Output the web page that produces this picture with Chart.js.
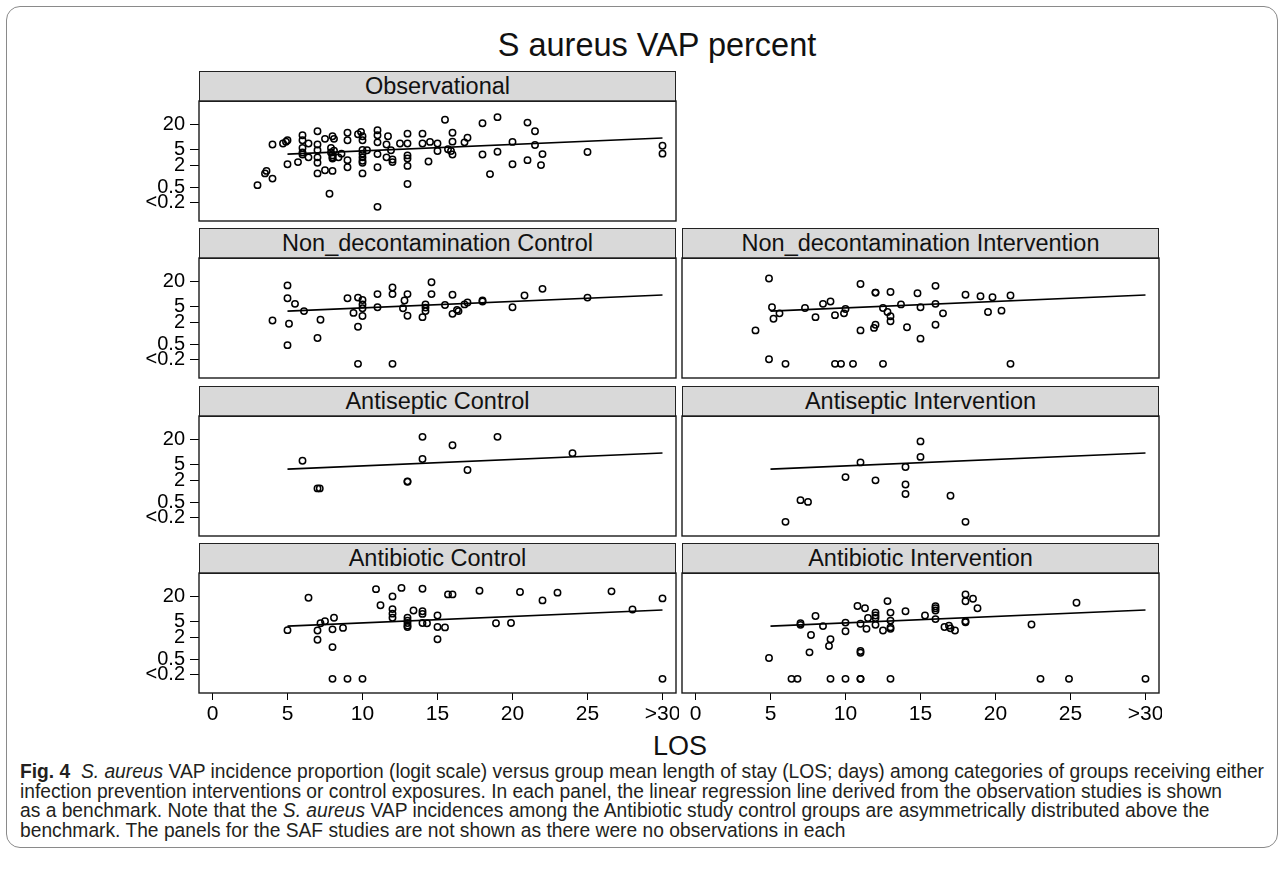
<!DOCTYPE html>
<html lang="en">
<head>
<meta charset="UTF-8">
<title>S aureus VAP percent</title>
<script src="https://cdn.jsdelivr.net/npm/chart.js"></script>
<style>
  body { margin: 0; background: #fff; font-family: "Liberation Sans", Arial, Helvetica, sans-serif; color: #111; }
  #fig { position: relative; width: 1284px; height: 885px; overflow: hidden; }
  .frame { position: absolute; left: 6px; top: 6px; width: 1272px; height: 842px; border: 1px solid #8a8a8a; border-radius: 14px; box-sizing: border-box; }
  canvas { position: absolute; }
  .strip { position: absolute; height: 31px; background: #d9d9d9; border: 1.3px solid #222; box-sizing: border-box;
           font-size: 23.5px; line-height: 28px; text-align: center; white-space: nowrap; }
  #title { position: absolute; left: 657px; top: 27px; transform: translateX(-50%); font-size: 32.5px; line-height: 36px; white-space: nowrap; }
  #xlabel { position: absolute; left: 680px; top: 730px; transform: translateX(-50%); font-size: 27px; line-height: 32px; }
  .cap { position: absolute; left: 20px; font-size: 20.5px; line-height: 20px; white-space: nowrap; color: #231f20; transform-origin: 0 50%; }
</style>
</head>
<body>
<div id="fig">
  <div class="frame"></div>
  <div id="title">S aureus VAP percent</div>
  <div id="xlabel">LOS</div>
  <div class="cap" style="top:761px"><b>Fig. 4</b>&nbsp; <i>S. aureus</i> VAP incidence proportion (logit scale) versus group mean length of stay (LOS; days) among categories of groups receiving either</div>
  <div class="cap" style="top:781px">infection prevention interventions or control exposures. In each panel, the linear regression line derived from the observation studies is shown</div>
  <div class="cap" style="top:800px">as a benchmark. Note that the <i>S. aureus</i> VAP incidences among the Antibiotic study control groups are asymmetrically distributed above the</div>
  <div class="cap" style="top:820px">benchmark. The panels for the SAF studies are not shown as there were no observations in each</div>
</div>

<script>
// axis ticks (y in percent, shown on a logit scale)
const yTickValues = [20, 5, 2, 0.5, 0.2];
const yTickLabels = ['20', '5', '2', '0.5', '<0.2'];
const xTickValues = [0, 5, 10, 15, 20, 25, 30];
const xTickLabels = ['0', '5', '10', '15', '20', '25', '>30'];

// benchmark regression line from the observational studies
const lineLos = [5, 30];
const linePct = [3.9, 10.0];

// "<0.2" groups are drawn at 0.15 just under the lowest tick
const obsLos = [3.0, 3.5, 3.6, 4.0, 4.0, 4.7, 4.9, 5.0, 5.0, 5.7,
  6.0, 6.0, 6.0, 6.0, 6.0, 6.4, 6.4, 7.0, 7.0, 7.0,
  7.0, 7.0, 7.0, 7.5, 7.5, 8.0, 8.1, 7.9, 7.9, 8.0,
  8.0, 8.0, 8.1, 8.0, 8.6, 8.4, 7.8, 9.0, 9.0, 9.0,
  9.0, 9.7, 9.9, 10, 10, 10, 10, 10, 10, 10,
  10, 10.3, 11, 11, 11, 11, 11, 11, 11.6, 11.7,
  11.6, 11.9, 12, 12, 12.5, 13, 13, 13, 13, 13,
  13, 14, 14, 14.4, 14.5, 15, 15, 15.5, 15.7, 15.9,
  16, 16, 16, 16.8, 17, 18, 18, 18.5, 19, 19,
  20, 20, 21, 21, 21.5, 21.5, 22, 21.9, 25, 30,
  30];
const obsPct = [0.58, 1.2, 1.4, 0.87, 6.9, 7.3, 8.1, 8.8, 2.1, 2.4,
  11.6, 8.8, 5.6, 4.3, 3.8, 7.3, 3.2, 14.5, 6.9, 4.9,
  3.2, 2.3, 1.2, 1.45, 9.5, 11, 9.5, 5.6, 4.3, 3.6,
  3.2, 3.0, 4.8, 1.4, 4.0, 3.2, 0.34, 13.3, 8.8, 2.7,
  1.75, 12.3, 14, 11, 8.8, 5.0, 4.0, 3.2, 2.6, 2.3,
  1.2, 4.9, 15.3, 11.6, 7.8, 3.9, 1.75, 0.15, 6.9, 11,
  3.2, 4.9, 2.8, 2.4, 7.3, 12.7, 7.3, 3.6, 3.0, 1.9,
  0.62, 12.7, 7.3, 2.5, 8.0, 7.3, 4.7, 25.7, 5.2, 4.7,
  13.3, 8.1, 3.8, 7.8, 10.1, 21.8, 3.8, 1.15, 29, 4.5,
  8.0, 2.1, 22.5, 2.7, 14.5, 6.7, 3.9, 2.0, 4.4, 6.4,
  4.0];

const ndcLos = [4.0, 5.0, 5.0, 5.1, 5.0, 5.5, 6.1, 7.0, 7.2, 9.0,
  9.4, 9.7, 9.7, 9.7, 10, 10, 10, 10, 11, 11,
  12, 12, 12, 12.7, 12.8, 13, 13, 14, 14.2, 14.2,
  14.2, 14.6, 14.6, 15.5, 16, 16, 16.3, 16.4, 16.8, 17,
  18, 18, 20, 20.8, 22, 25];
const ndcPct = [2.2, 16.8, 8.3, 1.8, 0.48, 6.0, 3.9, 0.75, 2.3, 8.3,
  3.5, 8.6, 1.5, 0.15, 7.5, 5.8, 4.6, 2.9, 10.5, 4.9,
  15.0, 10.5, 0.15, 4.6, 7.3, 10.5, 2.95, 2.7, 5.8, 4.8,
  3.9, 19.7, 10.5, 5.6, 10.1, 3.3, 4.2, 3.9, 5.8, 6.5,
  7.3, 6.9, 4.9, 9.7, 14.0, 8.6];

const ndiLos = [4.0, 4.9, 5.1, 5.2, 5.6, 4.9, 6.0, 7.3, 8.0, 8.5,
  9.0, 9.3, 9.9, 10, 9.3, 9.7, 10.5, 11, 11, 11.9,
  12, 12, 12, 12.5, 12.5, 12.8, 13, 13, 13, 13.7,
  14.1, 14.8, 15, 15, 16, 16, 16, 16.5, 18, 19,
  19.5, 19.8, 20.4, 21, 21];
const ndiPct = [1.2, 23.7, 4.9, 2.45, 3.4, 0.2, 0.15, 4.7, 2.7, 6.0,
  6.9, 3.05, 3.4, 4.4, 0.15, 0.15, 0.15, 18, 1.2, 1.4,
  1.7, 11.4, 11.4, 4.7, 0.15, 3.7, 11.8, 2.85, 2.1, 5.8,
  1.45, 11, 4.9, 0.72, 16.4, 6.0, 1.7, 3.4, 10.1, 9.3,
  3.7, 8.8, 4.0, 9.7, 0.15];

const ascLos = [6.0, 7.0, 7.15, 13, 13, 14, 14, 16, 17, 19, 24];
const ascPct = [6.4, 1.2, 1.2, 1.8, 1.85, 23.3, 7.1, 15.3, 3.7, 23.3, 9.9];

const asiLos = [6.0, 7.0, 7.5, 10, 11, 12, 14, 14, 14, 15, 15, 17, 18];
const asiPct = [0.15, 0.58, 0.52, 2.4, 5.8, 1.97, 4.4, 1.53, 0.85, 18.6, 8.0, 0.76, 0.15];

const abcLos = [5.0, 6.4, 7.0, 7.0, 7.2, 7.5, 8.0, 8.1, 8.0, 8.7,
  8.0, 9.0, 10, 10.9, 11.2, 12, 12, 12, 12, 12.6,
  13.4, 13, 13, 13, 13, 13, 14, 14, 14, 14,
  14.3, 15, 15, 15, 15.5, 15.7, 16, 17.8, 18.9, 19.9,
  20.5, 22, 23, 26.6, 28, 30, 30];
const abcPct = [3.05, 19.3, 3.0, 1.7, 4.6, 5.2, 3.2, 6.4, 1.08, 3.5,
  0.15, 0.15, 0.15, 29, 13.0, 20.6, 10.5, 8.1, 6.4, 30.6,
  9.7, 6.4, 5.4, 4.7, 4.0, 3.7, 29.5, 9.3, 8.0, 4.7,
  4.6, 7.3, 3.7, 1.75, 3.6, 22.7, 22.7, 27, 4.6, 4.7,
  25.4, 16.8, 24.7, 26.2, 10.3, 18.6, 0.15];

const abiLos = [4.9, 6.4, 6.8, 7.0, 7.0, 7.6, 7.7, 8.0, 8.5, 8.9,
  9.0, 9.0, 10, 10, 10, 10.8, 11.3, 11, 11, 11,
  11, 11, 11.4, 11.5, 12, 12, 12, 12, 12.5, 12.8,
  13, 13, 13, 13, 13, 14, 15.3, 16, 16, 16,
  16, 16.6, 16.9, 17, 17.3, 18, 18, 18, 18, 18.5,
  18.8, 22.4, 23, 24.9, 25.4, 30];
const abiPct = [0.55, 0.15, 0.15, 4.6, 4.2, 0.78, 2.27, 7.1, 3.9, 1.16,
  1.75, 0.15, 4.8, 2.85, 0.15, 12.5, 11, 4.5, 0.85, 0.76,
  0.15, 0.15, 3.3, 6.3, 8.6, 7.3, 6.3, 4.2, 3.0, 16.2,
  8.6, 5.4, 3.6, 3.3, 0.15, 9.3, 7.3, 12.3, 11, 9.7,
  5.9, 3.7, 4.0, 3.4, 3.0, 22.7, 16.1, 5.2, 4.9, 18.3,
  11, 4.3, 0.15, 0.15, 14.8, 0.15];

const panels = [
  { name: 'Observational', los: obsLos, pct: obsPct, row: 0, col: 0 },
  { name: 'Non_decontamination Control', los: ndcLos, pct: ndcPct, row: 1, col: 0 },
  { name: 'Non_decontamination Intervention', los: ndiLos, pct: ndiPct, row: 1, col: 1 },
  { name: 'Antiseptic Control', los: ascLos, pct: ascPct, row: 2, col: 0 },
  { name: 'Antiseptic Intervention', los: asiLos, pct: asiPct, row: 2, col: 1 },
  { name: 'Antibiotic Control', los: abcLos, pct: abcPct, row: 3, col: 0 },
  { name: 'Antibiotic Intervention', los: abiLos, pct: abiPct, row: 3, col: 1 }
];

// layout of the panel grid
const COL_LEFT = [199, 682];
const ROW_TOP = [101, 258, 416, 573];
const PLOT_W = 477, PLOT_H = 120;
const AXIS_W = 70, AXIS_H = 50, PAD = 3;
const FONT = '"Liberation Sans", Arial, Helvetica, sans-serif';

function logit(p) { return Math.log(p / (100 - p)); }

// y scale: percent values placed on a logit axis
class LogitScale extends Chart.Scale {
  static id = 'logit';
  static defaults = {};
  determineDataLimits() {
    this.min = this.options.min;
    this.max = this.options.max;
  }
  buildTicks() { return yTickValues.map(v => ({ value: v })); }
  getLabelForValue(v) { return String(v); }
  configure() {
    super.configure();
    this._lo = logit(this.min);
    this._span = logit(this.max) - this._lo;
  }
  getPixelForValue(v) { return this.getPixelForDecimal((logit(v) - this._lo) / this._span); }
  getValueForPixel(px) {
    const l = this._lo + this.getDecimalForPixel(px) * this._span;
    return 100 / (1 + Math.exp(-l));
  }
}
Chart.register(LogitScale);

const panelFrame = {
  id: 'panelFrame',
  afterDatasetsDraw(chart) {
    const a = chart.chartArea, c = chart.ctx;
    c.save();
    c.strokeStyle = '#1a1a1a';
    c.lineWidth = 1.4;
    c.strokeRect(a.left, a.top, a.right - a.left, a.bottom - a.top);
    c.restore();
  }
};

// fixed axis boxes so every panel's plot area lands on the grid
function fixX(s) { s.height = AXIS_H; s.paddingLeft = 0; s.paddingRight = 0; }
function fixY(s) { s.width = AXIS_W; s.paddingTop = 0; s.paddingBottom = 0; }

const fig = document.getElementById('fig');

panels.forEach(p => {
  const left = COL_LEFT[p.col], top = ROW_TOP[p.row];
  const showY = p.col === 0, showX = p.row === 3;

  const strip = document.createElement('div');
  strip.className = 'strip';
  strip.style.left = left + 'px';
  strip.style.top = (top - 30) + 'px';
  strip.style.width = PLOT_W + 'px';
  strip.textContent = p.name;
  fig.appendChild(strip);

  const cv = document.createElement('canvas');
  cv.width = AXIS_W + PLOT_W + PAD;
  cv.height = PAD + PLOT_H + AXIS_H;
  cv.style.left = (left - AXIS_W) + 'px';
  cv.style.top = (top - PAD) + 'px';
  fig.appendChild(cv);

  new Chart(cv, {
    type: 'scatter',
    data: {
      datasets: [{
        data: p.los.map((x, i) => ({ x: x, y: p.pct[i] })),
        pointStyle: 'circle',
        pointRadius: 3.2,
        pointBorderWidth: 1.5,
        borderColor: '#000',
        backgroundColor: 'rgba(0,0,0,0)'
      }, {
        type: 'line',
        data: lineLos.map((x, i) => ({ x: x, y: linePct[i] })),
        showLine: true,
        pointRadius: 0,
        borderColor: '#000',
        borderWidth: 1.6,
        fill: false
      }]
    },
    options: {
      responsive: false,
      animation: false,
      events: [],
      layout: { padding: { top: PAD, right: PAD, left: 0, bottom: 0 }, autoPadding: false },
      plugins: { legend: { display: false }, tooltip: { enabled: false } },
      scales: {
        x: {
          type: 'linear', min: -0.9, max: 30.9,
          afterBuildTicks: s => { s.ticks = xTickValues.map(v => ({ value: v })); },
          afterFit: fixX,
          border: { display: false },
          grid: { display: showX, drawOnChartArea: false, tickLength: 7, color: '#000', lineWidth: 1 },
          ticks: { display: showX, autoSkip: false, maxRotation: 0, padding: 2, color: '#000',
                   font: { family: FONT, size: 21 }, callback: (v, i) => xTickLabels[i] }
        },
        y: {
          type: 'logit', min: 0.062, max: 52.8,
          afterFit: fixY,
          border: { display: false },
          grid: { display: showY, drawOnChartArea: false, tickLength: 9, color: '#000', lineWidth: 1 },
          ticks: { display: showY, autoSkip: false, padding: 5, color: '#000',
                   font: { family: FONT, size: 20 }, callback: (v, i) => yTickLabels[i] }
        }
      }
    },
    plugins: [panelFrame]
  });
});

// squeeze caption lines like the narrow journal face
const caps = document.querySelectorAll('.cap');
const k = 1244 / caps[0].getBoundingClientRect().width;
caps.forEach(c => { c.style.transform = 'scaleX(' + k + ')'; });
</script>
</body>
</html>
